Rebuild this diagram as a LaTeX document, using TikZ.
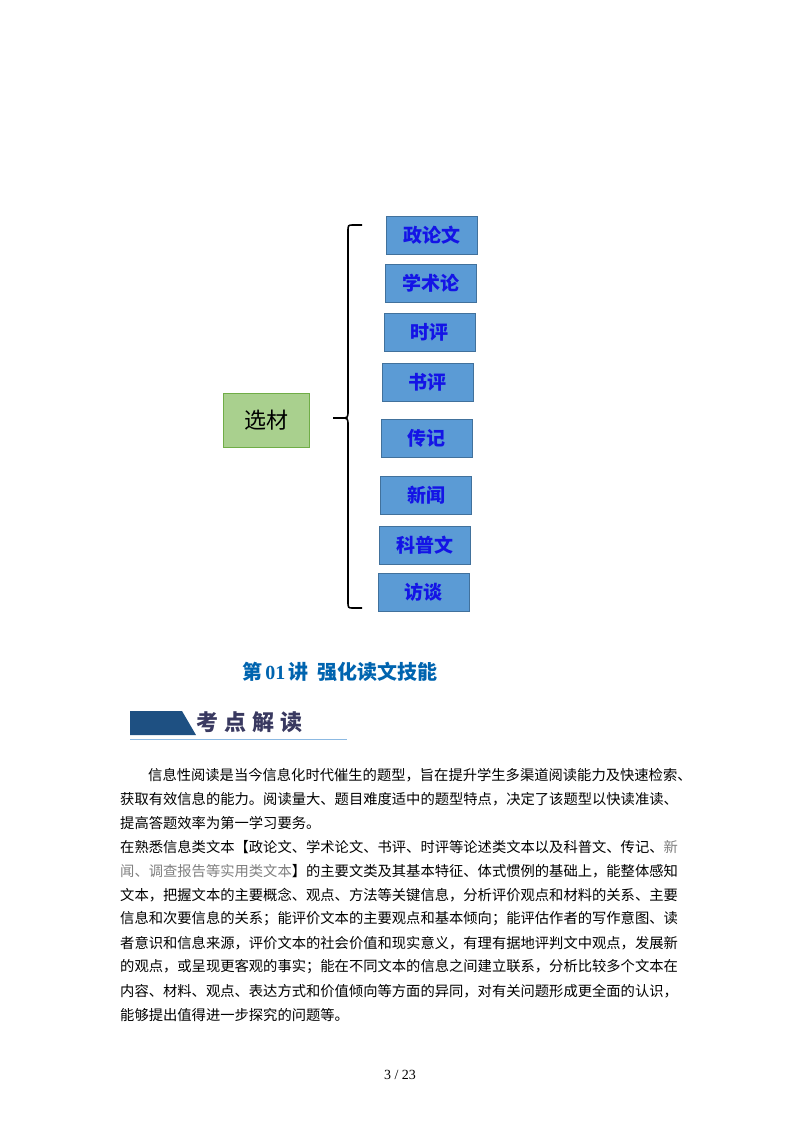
\documentclass[tikz,border=0pt]{standalone}
\usepackage{fontspec}
\setmainfont{Liberation Serif}
\newfontfamily\cjk{Noto Sans CJK SC}
\definecolor{boxblue}{RGB}{91,155,213}
\definecolor{boxedge}{RGB}{65,113,156}
\definecolor{txtblue}{RGB}{20,20,230}
\definecolor{greenf}{RGB}{169,208,142}
\definecolor{greene}{RGB}{112,173,71}
\definecolor{titleblue}{RGB}{0,100,175}
\definecolor{hdrblue}{RGB}{30,80,130}
\tikzset{
  cat/.style={draw=boxedge,line width=1pt,fill=boxblue,minimum width=91pt,minimum height=38pt,inner sep=0pt,font=\cjk\fontsize{19}{19}\selectfont\bfseries,text=txtblue},
  body/.style={anchor=west,inner sep=0pt,font=\cjk\fontsize{14.3}{14.3}\selectfont},
}
\begin{document}
\begin{tikzpicture}[x=1pt,y=-1pt]
\useasboundingbox (0,0) rectangle (800,1132);
\fill[white] (0,0) rectangle (800,1132);
\node[draw=greene,line width=1pt,fill=greenf,minimum width=86pt,minimum height=54pt,inner sep=0pt,font=\cjk\fontsize{22}{22}\selectfont] (root) at (266,420) {选材};
\node[cat] (a) at (432,235) {政论文};
\node[cat] (b) at (430.5,283) {学术论};
\node[cat] (c) at (429.5,332.5) {时评};
\node[cat] (d) at (427.5,382.5) {书评};
\node[cat] (e) at (426.5,438.5) {传记};
\node[cat] (f) at (426,495) {新闻};
\node[cat] (g) at (425,545) {科普文};
\node[cat] (h) at (423.5,592.5) {访谈};
\coordinate (tip) at (333,418);
\draw[line width=1.6pt] (362,225) -- (353,225) .. controls (348,225) .. (348,232) -- (348,410) .. controls (348,418) .. (341,418) -- (tip)
  (341,418) .. controls (348,418) .. (348,426) -- (348,601) .. controls (348,608) .. (353,608) -- (362,608);
\node[font=\cjk\fontsize{20}{20}\selectfont\bfseries,text=titleblue] (title) at (340,672) {第\,{\rmfamily\bfseries 01}\,讲\ \ 强化读文技能};
\fill[hdrblue] (130,711) -- (182,711) -- (196,735) -- (130,735) -- cycle;
\draw[boxblue!70,line width=1pt] (130,739) -- (347,739);
\node[anchor=west,inner sep=0pt,font=\cjk\fontsize{22}{22}\selectfont\bfseries,text=gray!75!blue!60!black] (hdr) at (196,722) {考\hspace{6pt}点\hspace{6pt}解\hspace{6pt}读};
\node[body] (l1) at (148,775) {信息性阅读是当今信息化时代催生的题型，旨在提升学生多渠道阅读能力及快速检索、};
\node[body] (l2) at (120,799) {获取有效信息的能力。阅读量大、题目难度适中的题型特点，决定了该题型以快读准读、};
\node[body] (l3) at (120,823) {提高答题效率为第一学习要务。};
\node[body] (l4) at (120,847) {在熟悉信息类文本【政论文、学术论文、书评、时评等论述类文本以及科普文、传记、{\color{gray}新}};
\node[body] (l5) at (120,871) {{\color{gray}闻、调查报告等实用类文本}】的主要文类及其基本特征、体式惯例的基础上，能整体感知};
\node[body] (l6) at (120,895) {文本，把握文本的主要概念、观点、方法等关键信息，分析评价观点和材料的关系、主要};
\node[body] (l7) at (120,919) {信息和次要信息的关系；能评价文本的主要观点和基本倾向；能评估作者的写作意图、读};
\node[body] (l8) at (120,943) {者意识和信息来源，评价文本的社会价值和现实意义，有理有据地评判文中观点，发展新};
\node[body] (l9) at (120,967) {的观点，或呈现更客观的事实；能在不同文本的信息之间建立联系，分析比较多个文本在};
\node[body] (l10) at (120,991) {内容、材料、观点、表达方式和价值倾向等方面的异同，对有关问题形成更全面的认识，};
\node[body] (l11) at (120,1015) {能够提出值得进一步探究的问题等。};
\node[font=\fontsize{14}{14}\selectfont] (pg) at (400,1075) {3\ /\ 23};
\end{tikzpicture}
\end{document}
